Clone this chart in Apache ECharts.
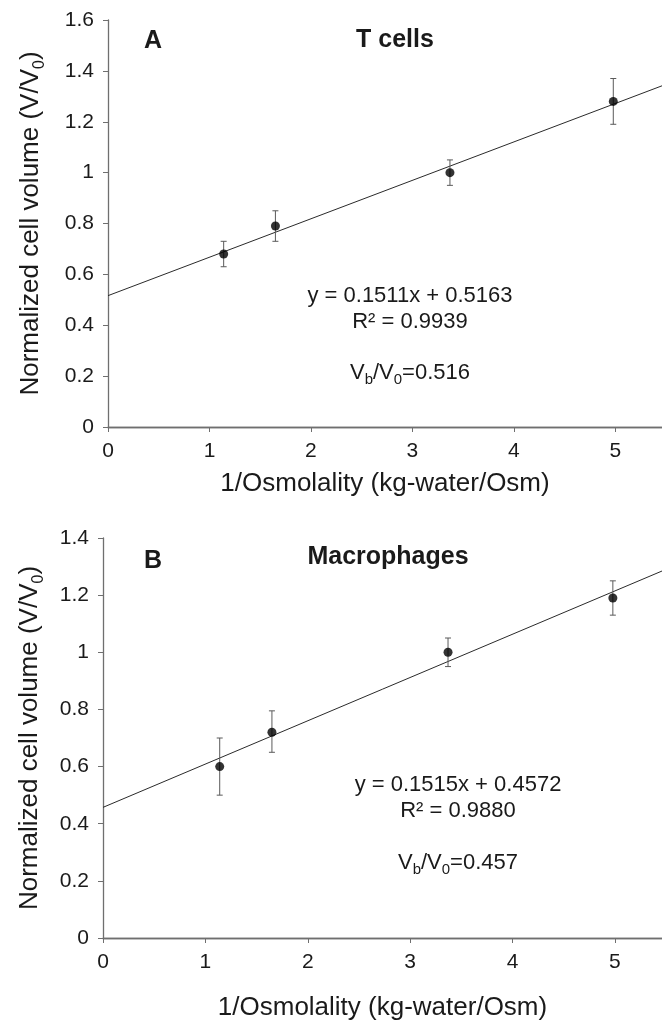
<!DOCTYPE html>
<html>
<head>
<meta charset="utf-8">
<script src="https://cdn.jsdelivr.net/npm/echarts@6/dist/echarts.min.js"></script>
<style>html,body{margin:0;padding:0;background:#fff}#c{width:662px;height:1026px}</style>
</head>
<body>
<div id="c"></div>
<script>
// ---- data ----
const xTicks = [0, 1, 2, 3, 4, 5];
const tX = [1.14, 1.65, 3.37, 4.98];
const tMean = [0.68, 0.79, 1.00, 1.28];
const tLow = [0.63, 0.73, 0.95, 1.19];
const tHigh = [0.73, 0.85, 1.05, 1.37];
const tFitX = [0, 5.46];
const tFitY = [0.5163, 1.3413];

const mX = [1.14, 1.65, 3.37, 4.98];
const mMean = [0.60, 0.72, 1.00, 1.19];
const mLow = [0.50, 0.65, 0.95, 1.13];
const mHigh = [0.70, 0.795, 1.05, 1.25];
const mFitX = [0, 5.46];
const mFitY = [0.4572, 1.2844];

const FONT = 'Liberation Sans, Arial, sans-serif';
const axisCol = '#6f6f6f';
const labCol = '#1a1a1a';

function zip(a, b) { return a.map((v, i) => [v, b[i]]); }

function xAxisFor(gi, nameGap) {
  return [{
    gridIndex: gi, type: 'value', min: 0, max: 5.46,
    name: '1/Osmolality (kg-water/Osm)', nameLocation: 'middle', nameGap: nameGap,
    nameTextStyle: { fontFamily: FONT, fontSize: 26, color: labCol },
    axisLine: { show: true, onZero: false, lineStyle: { color: axisCol, width: 1.3 } },
    axisTick: { show: true, length: 5, customValues: xTicks, lineStyle: { color: axisCol } },
    axisLabel: { customValues: xTicks, fontFamily: FONT, fontSize: 21, color: labCol, margin: 14 },
    splitLine: { show: false }
  }, {
    gridIndex: gi, type: 'value', min: 0, max: 5.46, position: 'top',
    axisLine: { show: true, lineStyle: { color: axisCol, width: 1.3 } },
    axisTick: { show: false }, axisLabel: { show: false }, splitLine: { show: false }
  }];
}
function yAxisFor(gi, max, nameGap) {
  return {
    gridIndex: gi, type: 'value', min: 0, max: max, interval: 0.2,
    name: '{a|Normalized cell volume (V/V}{s|0}{a|)}', nameLocation: 'middle', nameGap: nameGap,
    nameTextStyle: {
      fontFamily: FONT, color: labCol,
      rich: {
        a: { fontFamily: FONT, fontSize: 26, color: labCol, lineHeight: 34 },
        s: { fontFamily: FONT, fontSize: 16, color: labCol, lineHeight: 34, verticalAlign: 'bottom' }
      }
    },
    axisLine: { show: true, lineStyle: { color: axisCol, width: 1.3 } },
    axisTick: { show: true, length: 5, lineStyle: { color: axisCol } },
    axisLabel: { fontFamily: FONT, fontSize: 21, color: labCol, margin: 14 },
    splitLine: { show: false }
  };
}

function errSeries(xi, yi, xs, lo, hi) {
  return {
    type: 'custom', xAxisIndex: xi, yAxisIndex: yi, z: 3,
    data: xs.map((x, i) => [x, lo[i], hi[i]]),
    renderItem: function (params, api) {
      const a = api.coord([api.value(0), api.value(1)]);
      const b = api.coord([api.value(0), api.value(2)]);
      const w = 3;
      const st = { stroke: '#5a5a5a', lineWidth: 1 };
      return {
        type: 'group', children: [
          { type: 'line', shape: { x1: a[0], y1: a[1], x2: b[0], y2: b[1] }, style: st },
          { type: 'line', shape: { x1: a[0] - w, y1: a[1], x2: a[0] + w, y2: a[1] }, style: st },
          { type: 'line', shape: { x1: b[0] - w, y1: b[1], x2: b[0] + w, y2: b[1] }, style: st }
        ]
      };
    }
  };
}

function fitSeries(xi, yi, fx, fy) {
  return {
    type: 'line', xAxisIndex: xi, yAxisIndex: yi, data: zip(fx, fy), symbol: 'none', z: 2,
    lineStyle: { color: '#2a2a2a', width: 1 }, silent: true
  };
}
function ptSeries(xi, yi, xs, ys) {
  return {
    type: 'scatter', xAxisIndex: xi, yAxisIndex: yi, data: zip(xs, ys), symbol: 'circle', symbolSize: 9, z: 4,
    itemStyle: { color: '#000' }
  };
}

const txt = (x, y, text, size, bold, rich) => ({
  type: 'text', x: x, y: y,
  style: {
    text: text, fontFamily: FONT, fontSize: size, fontWeight: bold ? 'bold' : 'normal', fill: labCol,
    align: 'center', verticalAlign: 'middle', rich: rich
  }
});
const vRich = {
  a: { fontFamily: FONT, fontSize: 22, fill: labCol, lineHeight: 28 },
  s: { fontFamily: FONT, fontSize: 15, fill: labCol, lineHeight: 28, verticalAlign: 'bottom' }
};

const chart = echarts.init(document.getElementById('c'), null, { renderer: 'canvas' });
chart.setOption({
  animation: false,
  grid: [
    { left: 108, top: 20, right: 0, height: 407 },
    { left: 103, top: 538, right: 0, height: 400 }
  ],
  xAxis: [].concat(xAxisFor(0, 44), xAxisFor(1, 57)),
  yAxis: [yAxisFor(0, 1.6, 60), yAxisFor(1, 1.4, 56)],
  series: [
    fitSeries(0, 0, tFitX, tFitY),
    errSeries(0, 0, tX, tLow, tHigh),
    ptSeries(0, 0, tX, tMean),
    fitSeries(2, 1, mFitX, mFitY),
    errSeries(2, 1, mX, mLow, mHigh),
    ptSeries(2, 1, mX, mMean)
  ],
  graphic: [
    txt(153, 41, 'A', 25, true),
    txt(395, 40, 'T cells', 25, true),
    txt(410, 296, 'y = 0.1511x + 0.5163', 22),
    txt(410, 322, 'R² = 0.9939', 22),
    txt(410, 373, '{a|V}{s|b}{a|/V}{s|0}{a|=0.516}', 22, false, vRich),
    txt(153, 561, 'B', 25, true),
    txt(388, 557, 'Macrophages', 25, true),
    txt(458, 785, 'y = 0.1515x + 0.4572', 22),
    txt(458, 811, 'R² = 0.9880', 22),
    txt(458, 863, '{a|V}{s|b}{a|/V}{s|0}{a|=0.457}', 22, false, vRich)
  ]
});
</script>
</body>
</html>
